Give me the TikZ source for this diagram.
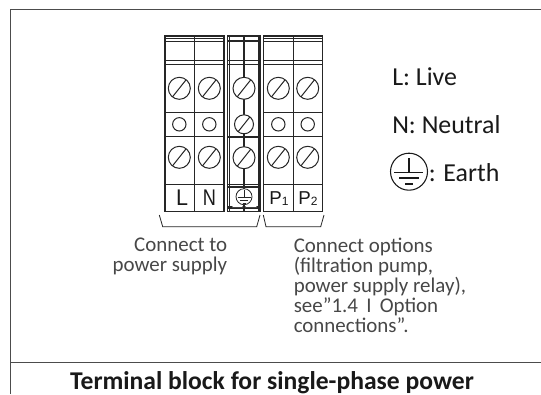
\documentclass[tikz,border=0pt]{standalone}
\usepackage{fontspec}
\setmainfont{Carlito}
\setsansfont{Liberation Sans}
\begin{document}
\begin{tikzpicture}[x=0.75pt,y=-0.75pt,
 frameline/.style={draw=black!70!white,line width=1.1pt},
 blockline/.style={draw=black!85,line width=.95pt},
 thinline/.style={draw=black!85,line width=.6pt},
 screw/.style={draw=black!85,line width=.75pt},
 capt/.style={font=\fontsize{15.7}{15}\selectfont,text=black!72,inner sep=0pt},
 keytext/.style={font=\fontsize{19.4}{22}\selectfont,text=black!90,inner sep=0pt,anchor=base west},
 pin/.style={font=\sffamily\fontsize{14}{15}\selectfont,text=black!90,inner sep=0pt}]
\useasboundingbox (0,0) rectangle (541,394);
\fill[white] (0,0) rectangle (541,394);
\def\slot(#1,#2,#3){\draw[screw] (#1,#2) circle (#3);\draw[screw] ({#1-.62*#3},{#2+.78*#3}) -- ({#1+.62*#3},{#2-.78*#3});}
% frame
\draw[frameline] (10.5,394) -- (10.5,9.5) -- (541,9.5);
\draw[frameline] (10.5,362.5) -- (541,362.5);
% terminal bodies
\foreach \a/\b in {165/194.5,194.5/224,263.5/293.3,293.3/322.7}{
 \draw[blockline] (\a,36) rectangle (\b,211.7);
}
\draw[blockline] (227.8,36) rectangle (260,211.7);
\foreach \a/\b in {165/224,263.5/322.7}{
 \draw[thinline] (\a,38.5)--(\b,38.5);
 \draw[blockline] (\a,41.7)--(\b,41.7);
 \draw[thinline] (\a,60.7)--(\b,60.7);
 \draw[blockline] (\a,64.3)--(\b,64.3);
 \draw[blockline] (\a,112.3)--(\b,112.3);
 \draw[blockline] (\a,136.5)--(\b,136.5);
 \draw[blockline] (\a,184.3)--(\b,184.3);
}
% earth terminal
\draw[line width=1.5pt,black!85] (227.8,41)--(260,41);
\draw[thinline] (227.8,60.7)--(260,60.7);
\draw[blockline] (227.8,64.3)--(260,64.3);
\draw[thinline] (229.6,36)--(229.6,211.7);
\draw[thinline] (258.3,36)--(258.3,211.7);
\draw[blockline] (227.8,137)--(260,137);
\draw[blockline] (227.8,187)--(260,187);
\draw[thinline] (227.8,184.3)--(260,184.3);
\draw[line width=2.5pt,black!85] (227.8,207.5)--(260,207.5);
\draw[blockline] (244,36)--(244,211.7);
\fill[white] (232,207) arc (180:360:5.5 and 1.8) -- cycle;
\fill[white] (245,207) arc (180:360:6 and 1.8) -- cycle;
% screws
\foreach \x in {179.3,209.3,278.3,307.7}{
 \slot(\x,88.3,11)
 \slot(\x,157.3,11)
 \draw[screw] (\x,124.3) circle (6.7);
}
\fill[white] (244,88.3) circle (11);\slot(244,88.3,11)
\fill[white] (244,124.3) circle (9.5);\slot(244,124.3,9.5)
\fill[white] (244,157.7) circle (11);\slot(244,157.7,11)
% earth symbol in terminal
\fill[white] (244,196.7) circle (8);
\draw[thinline] (244,196.7) circle (8);
\draw[thinline] (244,190)--(244,197.5) (237.5,197.5)--(250.5,197.5) (240,200.5)--(248,200.5) (242.5,203)--(245.5,203);
% terminal labels
\node[pin,font=\sffamily\fontsize{17}{18}\selectfont,xscale=.95] (pl) at (182,198) {L};
\node[pin,font=\sffamily\fontsize{17}{18}\selectfont,xscale=.8] (pn) at (209.5,198) {N};
\node[pin] (p1) at (279,198.5) {P\fontsize{9}{9}\selectfont\raisebox{-.3pt}{1}};
\node[pin] (p2) at (308,198.5) {P\fontsize{9}{9}\selectfont\raisebox{-.3pt}{2}};
% brackets
\coordinate (ba) at (159.3,215); \coordinate (bb) at (162.7,226.7); \coordinate (bc) at (256.7,226.7); \coordinate (bd) at (260,215);
\coordinate (be) at (263.3,215); \coordinate (bf) at (266,226.7); \coordinate (bg) at (320.7,226.7); \coordinate (bh) at (324,215);
\draw[thinline] (ba)--(bb)--(bc)--(bd);
\draw[thinline] (be)--(bf)--(bg)--(bh);
% captions
\node[capt,align=right,anchor=north east] (c1) at (227.5,238) {Connect to\\power supply};
\node[capt,align=left,anchor=north west] (c2) at (293.5,238) {Connect options\\(filtration pump,\\power supply relay),\\see”1.4 \,I\, Option\\connections”.};
% key
\node[keytext] (k1) at (392,85.7) {L: Live};
\node[keytext] (k2) at (392,133.3) {N: Neutral};
\draw[line width=.8pt,black!90] (409,171.7) circle (18.5);
\draw[line width=.8pt,black!90] (409,158)--(409,172.7) (394,172.7)--(423,172.7) (399,178)--(419,178) (405,184)--(413,184);
\node[keytext] (k3) at (428.5,181.7) {: Earth};
% title
\node[font=\bfseries\fontsize{19.2}{21}\selectfont,text=black!90,inner sep=0pt,anchor=base] (t) at (272,389) {Terminal block for single-phase power};
\end{tikzpicture}
\end{document}
